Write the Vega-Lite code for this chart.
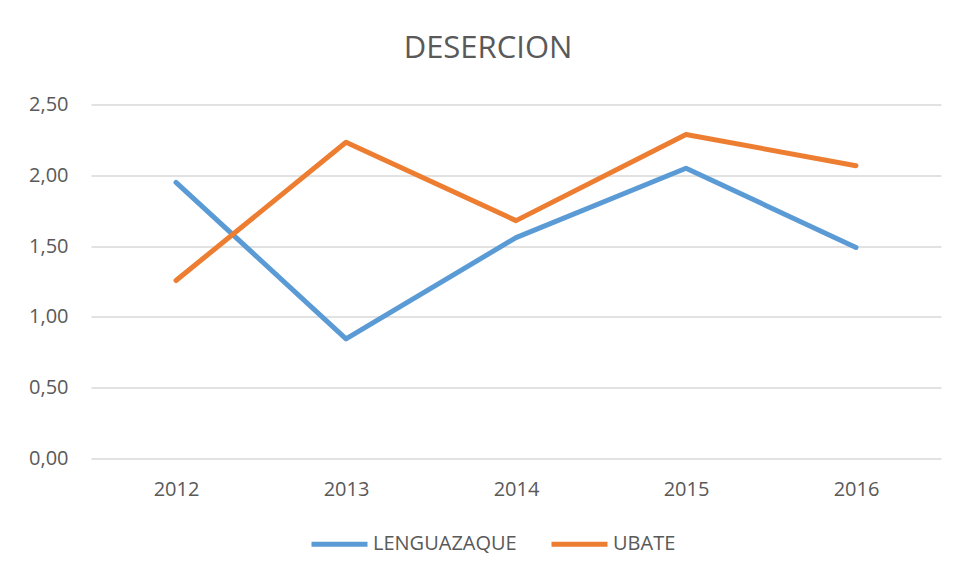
{
  "$schema": "https://vega.github.io/schema/vega-lite/v6.json",
  "width": 850,
  "height": 354,
  "autosize": {"type": "none"},
  "padding": {"left": 91, "top": 104.5, "right": 18, "bottom": 119.5},
  "background": "white",
  "config": {
    "locale": {"number": {"decimal": ",", "thousands": ".", "grouping": [3], "currency": ["$", ""]}},
    "view": {"stroke": null},
    "font": "Open Sans"
  },
  "title": {
    "text": "DESERCION",
    "fontSize": 31,
    "font": "Open Sans",
    "fontWeight": "normal",
    "color": "#595959",
    "anchor": "middle",
    "dx": -28,
    "offset": 30
  },
  "data": {
    "values": [
      {"year": "2012", "serie": "LENGUAZAQUE", "value": 1.95},
      {"year": "2013", "serie": "LENGUAZAQUE", "value": 0.845},
      {"year": "2014", "serie": "LENGUAZAQUE", "value": 1.56},
      {"year": "2015", "serie": "LENGUAZAQUE", "value": 2.05},
      {"year": "2016", "serie": "LENGUAZAQUE", "value": 1.49},
      {"year": "2012", "serie": "UBATE", "value": 1.257},
      {"year": "2013", "serie": "UBATE", "value": 2.233},
      {"year": "2014", "serie": "UBATE", "value": 1.68},
      {"year": "2015", "serie": "UBATE", "value": 2.288},
      {"year": "2016", "serie": "UBATE", "value": 2.068}
    ]
  },
  "mark": {"type": "line", "strokeWidth": 5, "strokeCap": "round", "strokeJoin": "round"},
  "encoding": {
    "x": {
      "field": "year",
      "type": "ordinal",
      "scale": {"type": "point", "padding": 0.5},
      "axis": {
        "title": null,
        "labelAngle": 0,
        "domain": false,
        "ticks": false,
        "grid": false,
        "labelFontSize": 20,
        "labelFont": "Open Sans",
        "labelColor": "#595959",
        "labelPadding": 21
      }
    },
    "y": {
      "field": "value",
      "type": "quantitative",
      "scale": {"domain": [0, 2.5], "nice": false, "zero": true},
      "axis": {
        "title": null,
        "values": [0, 0.5, 1, 1.5, 2, 2.5],
        "format": ".2f",
        "domain": false,
        "ticks": false,
        "gridColor": "#D9D9D9",
        "gridWidth": 1.5,
        "labelFontSize": 20,
        "labelFont": "Open Sans",
        "labelColor": "#595959",
        "labelPadding": 23
      }
    },
    "color": {
      "field": "serie",
      "type": "nominal",
      "scale": {"domain": ["LENGUAZAQUE", "UBATE"], "range": ["#5B9BD5", "#ED7D31"]},
      "legend": {
        "title": null,
        "orient": "none",
        "direction": "horizontal",
        "legendX": 218,
        "legendY": 409,
        "symbolType": "stroke",
        "symbolSize": 3136,
        "symbolStrokeWidth": 5,
        "labelFontSize": 20,
        "labelFont": "Open Sans",
        "labelColor": "#595959",
        "columnPadding": 24,
        "labelOffset": 3
      }
    }
  }
}
